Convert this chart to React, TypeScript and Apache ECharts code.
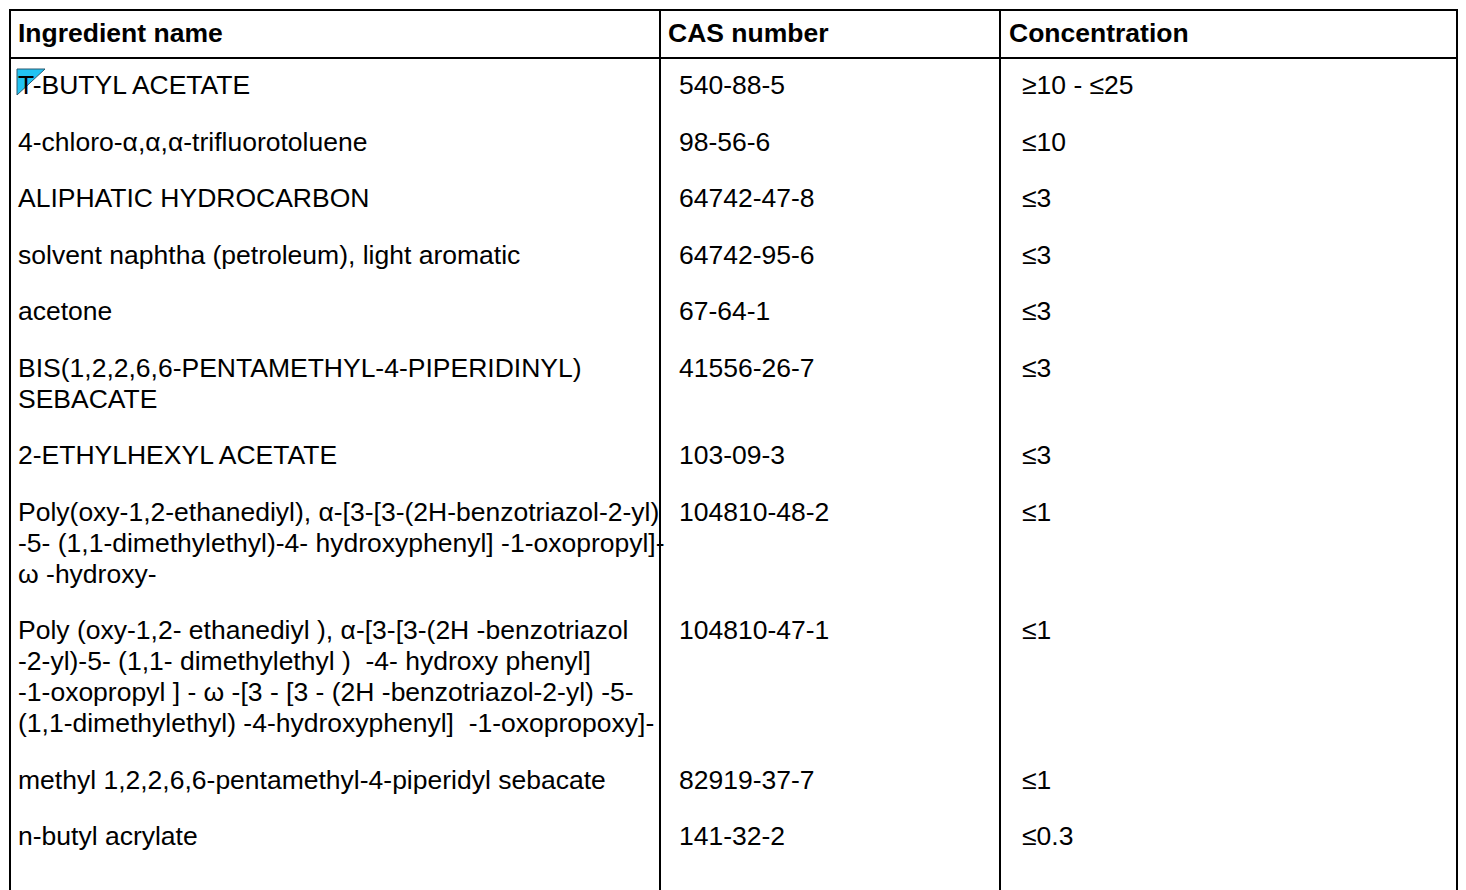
import React, { useEffect, useRef } from "react";
import * as echarts from "echarts";

const headers = ["Ingredient name", "CAS number", "Concentration"];

const ingredientNames = [
  "T-BUTYL ACETATE",
  "4-chloro-α,α,α-trifluorotoluene",
  "ALIPHATIC HYDROCARBON",
  "solvent naphtha (petroleum), light aromatic",
  "acetone",
  "BIS(1,2,2,6,6-PENTAMETHYL-4-PIPERIDINYL)\nSEBACATE",
  "2-ETHYLHEXYL ACETATE",
  "Poly(oxy-1,2-ethanediyl), α-[3-[3-(2H-benzotriazol-2-yl)\n-5- (1,1-dimethylethyl)-4- hydroxyphenyl] -1-oxopropyl]-\nω -hydroxy-",
  "Poly (oxy-1,2- ethanediyl ), α-[3-[3-(2H -benzotriazol\n-2-yl)-5- (1,1- dimethylethyl )  -4- hydroxy phenyl]\n-1-oxopropyl ] - ω -[3 - [3 - (2H -benzotriazol-2-yl) -5-\n(1,1-dimethylethyl) -4-hydroxyphenyl]  -1-oxopropoxy]-",
  "methyl 1,2,2,6,6-pentamethyl-4-piperidyl sebacate",
  "n-butyl acrylate",
];

const casNumbers = [
  "540-88-5",
  "98-56-6",
  "64742-47-8",
  "64742-95-6",
  "67-64-1",
  "41556-26-7",
  "103-09-3",
  "104810-48-2",
  "104810-47-1",
  "82919-37-7",
  "141-32-2",
];

const concentrations = [
  "≥10 - ≤25",
  "≤10",
  "≤3",
  "≤3",
  "≤3",
  "≤3",
  "≤3",
  "≤1",
  "≤1",
  "≤1",
  "≤0.3",
];

const FONT = '"Liberation Sans", Arial, Helvetica, sans-serif';
const FS = 26.5;
const LH = 31;
const ROW_GAP = 56.5;
const FIRST_ROW_Y = 85;
const HEADER_Y = 33;

const TABLE_LEFT = 10;
const TABLE_RIGHT = 1457;
const TABLE_TOP = 10;
const HEADER_BOTTOM = 58;
const TABLE_BOTTOM = 892;
const COL_LINES = [TABLE_LEFT, 660, 1000, TABLE_RIGHT];
const HEADER_X = [18, 668, 1009];
const BODY_X = [18, 679, 1022];

function textEl(str: string, x: number, yCenter: number, bold = false) {
  return {
    type: "text",
    x,
    y: yCenter - LH / 2,
    z: 10,
    style: {
      text: str,
      fill: "#000",
      fontSize: FS,
      fontFamily: FONT,
      fontWeight: bold ? "bold" : "normal",
      lineHeight: LH,
      align: "left",
      verticalAlign: "top",
    },
  };
}

function lineEl(x1: number, y1: number, x2: number, y2: number) {
  return {
    type: "line",
    z: 5,
    shape: { x1, y1, x2, y2 },
    style: { stroke: "#000", lineWidth: 2 },
  };
}

export default function App() {
  const ref = useRef<HTMLDivElement>(null);

  useEffect(() => {
    if (!ref.current) return;
    const chart = echarts.init(ref.current, null, { renderer: "svg" });

    const elements: any[] = [];

    // borders
    elements.push(lineEl(TABLE_LEFT - 1, TABLE_TOP, TABLE_RIGHT + 1, TABLE_TOP));
    elements.push(lineEl(TABLE_LEFT, HEADER_BOTTOM, TABLE_RIGHT, HEADER_BOTTOM));
    COL_LINES.forEach((x) => elements.push(lineEl(x, TABLE_TOP, x, TABLE_BOTTOM)));

    // headers
    headers.forEach((h, i) => elements.push(textEl(h, HEADER_X[i], HEADER_Y, true)));

    // rows
    let y = FIRST_ROW_Y;
    ingredientNames.forEach((name, i) => {
      if (i === 0) {
        // annotation marker over the first letter
        elements.push({
          type: "polygon",
          z: 8,
          shape: {
            points: [
              [BODY_X[0] - 1, y - 16],
              [BODY_X[0] + 27, y - 16],
              [BODY_X[0] - 1, y + 10],
            ],
          },
          style: { fill: "#22C3F2", stroke: "#2a5a70", lineWidth: 1 },
        });
      }
      elements.push(textEl(name, BODY_X[0], y));
      elements.push(textEl(casNumbers[i], BODY_X[1], y));
      elements.push(textEl(concentrations[i], BODY_X[2], y));
      const lines = name.split("\n").length;
      y += (lines - 1) * LH + ROW_GAP;
    });

    chart.setOption({
      animation: false,
      backgroundColor: "#fff",
      graphic: { elements },
    });

    return () => chart.dispose();
  }, []);

  return (
    <div
      ref={ref}
      style={{ position: "fixed", left: 0, top: 0, width: 1466, height: 890, background: "#fff" }}
    />
  );
}
